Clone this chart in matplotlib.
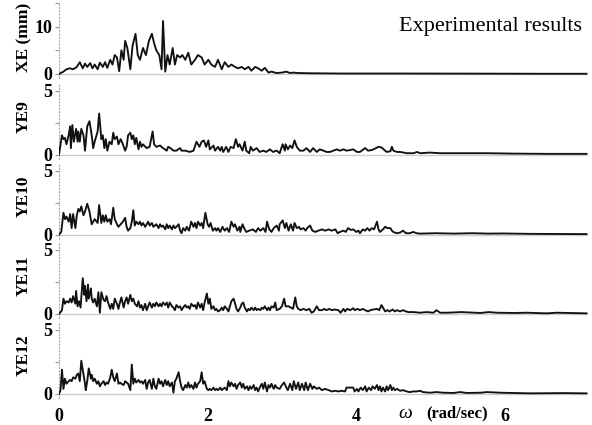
import numpy as np
import matplotlib
matplotlib.use("Agg")
import matplotlib.pyplot as plt

# spectra: (omega [rad/sec], amplitude)
xe = np.array([
    (0.00, 0), (0.06, 0.5), (0.10, 1.0), (0.15, 1.2), (0.19, 1.0), (0.24, 1.5), (0.28, 2.5),
    (0.32, 1.2), (0.35, 2.2), (0.38, 1.5), (0.42, 2.3), (0.45, 1.2), (0.48, 2.0), (0.52, 1.0),
    (0.55, 2.4), (0.59, 1.5), (0.62, 2.5), (0.65, 1.3), (0.69, 3.0), (0.72, 2.0), (0.75, 4.0),
    (0.78, 3.5), (0.81, 0.6), (0.84, 5.0), (0.87, 3.0), (0.89, 7.0), (0.92, 5.5), (0.96, 1.0),
    (0.99, 6.0), (1.03, 8.5), (1.06, 4.0), (1.09, 3.0), (1.13, 5.5), (1.17, 4.0), (1.21, 7.0),
    (1.25, 8.5), (1.28, 6.5), (1.31, 5.0), (1.35, 4.0), (1.38, 1.0), (1.40, 11.2), (1.43, 0.5),
    (1.46, 4.0), (1.49, 2.0), (1.53, 5.5), (1.56, 2.0), (1.59, 4.0), (1.63, 3.5), (1.66, 4.0),
    (1.70, 3.0), (1.74, 4.5), (1.78, 2.0), (1.83, 3.0), (1.87, 4.0), (1.92, 3.5), (1.96, 2.0),
    (2.01, 3.0), (2.05, 2.0), (2.10, 1.5), (2.14, 3.0), (2.19, 1.0), (2.23, 2.5), (2.28, 1.5),
    (2.32, 2.0), (2.37, 1.5), (2.41, 1.2), (2.46, 1.5), (2.50, 1.0), (2.55, 1.5), (2.59, 0.7),
    (2.64, 1.5), (2.68, 1.2), (2.73, 0.7), (2.77, 1.3), (2.82, 0.3), (2.86, 0.5), (2.93, 0.2),
    (3.00, 0.3), (3.06, 0.5), (3.11, 0.2), (3.15, 0.3), (3.22, 0.2), (3.40, 0.15), (3.80, 0.1),
    (4.50, 0.1), (5.50, 0.08), (6.50, 0.05), (7.10, 0.05),
])

ye9 = np.array([
    (0.00, 0), (0.04, 1.5), (0.06, 1.2), (0.08, 1.3), (0.10, 0.8), (0.13, 1.5), (0.15, 2.2),
    (0.16, 0.5), (0.18, 2.3), (0.20, 1.0), (0.23, 2.0), (0.25, 1.0), (0.26, 1.8), (0.28, 1.0),
    (0.30, 2.0), (0.33, 1.5), (0.35, 0.3), (0.38, 2.2), (0.41, 2.6), (0.44, 1.5), (0.46, 0.5),
    (0.48, 1.0), (0.52, 1.8), (0.54, 3.2), (0.57, 1.2), (0.59, 1.5), (0.61, 0.5), (0.63, 1.2),
    (0.65, 0.3), (0.68, 1.0), (0.71, 0.8), (0.73, 1.7), (0.75, 1.2), (0.78, 1.4), (0.80, 0.8),
    (0.83, 1.2), (0.86, 0.8), (0.89, 0.3), (0.91, 0.6), (0.93, 1.5), (0.96, 1.7), (0.98, 1.2),
    (1.00, 1.5), (1.02, 0.8), (1.04, 1.3), (1.07, 0.4), (1.09, 1.0), (1.11, 0.6), (1.13, 0.8),
    (1.18, 0.5), (1.22, 0.6), (1.26, 1.8), (1.28, 0.8), (1.31, 0.6), (1.36, 0.7), (1.40, 0.5),
    (1.45, 0.3), (1.47, 0.6), (1.50, 0.5), (1.54, 0.3), (1.58, 0.3), (1.63, 0.5), (1.65, 0.3),
    (1.70, 0.3), (1.76, 0.2), (1.81, 0.3), (1.85, 1.0), (1.89, 0.6), (1.92, 1.0), (1.95, 1.1),
    (1.98, 0.6), (2.01, 1.1), (2.03, 0.4), (2.08, 0.7), (2.10, 0.3), (2.14, 0.6), (2.17, 0.3),
    (2.19, 0.6), (2.21, 0.2), (2.25, 0.6), (2.28, 0.2), (2.31, 0.6), (2.35, 0.5), (2.38, 1.2),
    (2.41, 0.6), (2.43, 0.8), (2.47, 0.3), (2.50, 1.0), (2.52, 0.3), (2.56, 0.1), (2.58, 0.6),
    (2.61, 0.3), (2.66, 0.5), (2.70, 0.2), (2.75, 0.3), (2.79, 0.2), (2.84, 0.4), (2.88, 0.2),
    (2.93, 0.3), (2.97, 0.1), (3.01, 0.8), (3.04, 0.3), (3.05, 0.8), (3.08, 0.4), (3.11, 0.7),
    (3.14, 0.5), (3.17, 1.1), (3.20, 0.6), (3.24, 0.3), (3.29, 0.3), (3.33, 0.5), (3.38, 0.2),
    (3.42, 0.5), (3.47, 0.2), (3.51, 0.4), (3.56, 0.3), (3.60, 0.2), (3.65, 0.2), (3.69, 0.3),
    (3.74, 0.4), (3.78, 0.3), (3.83, 0.4), (3.87, 0.3), (3.92, 0.35), (3.96, 0.4), (4.01, 0.2),
    (4.05, 0.2), (4.12, 0.5), (4.16, 0.3), (4.21, 0.35), (4.25, 0.45), (4.30, 0.6), (4.34, 0.55),
    (4.39, 0.3), (4.41, 0.2), (4.46, 0.25), (4.48, 0.6), (4.50, 0.3), (4.55, 0.2), (4.59, 0.2),
    (4.64, 0.15), (4.68, 0.1), (4.77, 0.1), (4.82, 0.2), (4.86, 0.1), (4.99, 0.15), (5.13, 0.1),
    (5.44, 0.1), (5.76, 0.1), (6.11, 0.07), (6.56, 0.05), (7.10, 0.05),
])

ye10 = np.array([
    (0.00, 0), (0.03, 0.2), (0.06, 1.7), (0.08, 1.2), (0.10, 1.4), (0.13, 1.0), (0.15, 1.6),
    (0.17, 0.5), (0.19, 1.6), (0.22, 0.5), (0.24, 1.5), (0.26, 2.0), (0.28, 1.8), (0.30, 2.2),
    (0.33, 1.5), (0.35, 1.8), (0.38, 2.4), (0.41, 1.8), (0.44, 0.8), (0.46, 1.0), (0.48, 1.2),
    (0.52, 0.9), (0.54, 2.3), (0.57, 0.9), (0.59, 1.5), (0.61, 1.0), (0.63, 1.5), (0.65, 1.0),
    (0.68, 1.2), (0.70, 0.8), (0.73, 2.1), (0.75, 1.2), (0.78, 0.8), (0.80, 0.6), (0.83, 0.8),
    (0.86, 1.0), (0.89, 1.3), (0.91, 0.6), (0.93, 0.3), (0.96, 0.5), (0.98, 1.0), (1.00, 1.9),
    (1.02, 0.7), (1.04, 1.0), (1.07, 0.8), (1.09, 1.0), (1.11, 0.7), (1.13, 0.9), (1.16, 0.6),
    (1.18, 0.8), (1.20, 1.0), (1.22, 0.7), (1.25, 0.9), (1.27, 0.6), (1.31, 0.8), (1.34, 0.5),
    (1.36, 0.8), (1.38, 0.6), (1.40, 0.7), (1.43, 0.4), (1.45, 0.8), (1.47, 0.5), (1.49, 0.7),
    (1.52, 0.4), (1.54, 0.7), (1.56, 0.5), (1.58, 0.6), (1.61, 0.8), (1.63, 0.3), (1.65, 0.1),
    (1.67, 0.5), (1.70, 0.3), (1.72, 0.6), (1.75, 0.3), (1.78, 1.0), (1.81, 0.6), (1.83, 0.9),
    (1.85, 0.5), (1.87, 1.0), (1.90, 0.7), (1.92, 0.9), (1.94, 0.5), (1.97, 1.7), (2.00, 0.8),
    (2.02, 0.6), (2.04, 0.9), (2.07, 0.3), (2.10, 0.5), (2.12, 0.3), (2.14, 0.5), (2.17, 0.2),
    (2.20, 0.6), (2.23, 0.3), (2.26, 0.5), (2.29, 0.2), (2.32, 1.0), (2.35, 0.6), (2.37, 0.8),
    (2.40, 0.3), (2.43, 0.6), (2.44, 0.2), (2.47, 0.8), (2.50, 0.4), (2.52, 0.2), (2.56, 0.3),
    (2.61, 0.4), (2.65, 0.2), (2.68, 0.5), (2.71, 0.3), (2.75, 0.5), (2.78, 0.2), (2.80, 1.0),
    (2.83, 0.4), (2.86, 0.2), (2.89, 0.5), (2.93, 0.7), (2.96, 0.3), (2.97, 0.8), (3.01, 1.1),
    (3.04, 0.5), (3.06, 0.9), (3.09, 0.3), (3.12, 0.8), (3.15, 0.3), (3.17, 0.9), (3.20, 0.5),
    (3.23, 0.6), (3.25, 0.4), (3.29, 0.5), (3.32, 0.3), (3.34, 0.5), (3.38, 0.7), (3.41, 0.3),
    (3.45, 0.2), (3.49, 0.3), (3.54, 0.4), (3.58, 0.3), (3.63, 0.4), (3.67, 0.3), (3.72, 0.4),
    (3.75, 0.1), (3.78, 0.2), (3.83, 0.3), (3.86, 0.2), (3.89, 0.5), (3.93, 0.35), (3.96, 0.4),
    (4.00, 0.2), (4.03, 0.3), (4.05, 0.1), (4.09, 0.4), (4.12, 0.3), (4.15, 0.5), (4.18, 0.3),
    (4.21, 0.5), (4.24, 0.4), (4.28, 1.0), (4.30, 0.4), (4.32, 0.2), (4.36, 0.4), (4.39, 0.6),
    (4.42, 0.5), (4.46, 0.5), (4.48, 0.3), (4.50, 0.2), (4.54, 0.1), (4.59, 0.15), (4.63, 0.3),
    (4.67, 0.1), (4.72, 0.1), (4.77, 0.2), (4.81, 0.1), (4.86, 0.07), (5.08, 0.1), (5.31, 0.07),
    (5.56, 0.1), (5.78, 0.07), (5.98, 0.08), (6.34, 0.05), (7.10, 0.03),
])

ye11 = np.array([
    (0.00, 0), (0.04, 0.3), (0.06, 1.2), (0.08, 0.8), (0.10, 1.0), (0.13, 0.9), (0.15, 1.2),
    (0.17, 0.9), (0.19, 1.4), (0.22, 0.8), (0.23, 1.8), (0.25, 0.6), (0.27, 1.0), (0.29, 0.5),
    (0.32, 2.8), (0.34, 1.5), (0.35, 2.2), (0.37, 1.0), (0.39, 2.3), (0.40, 1.2), (0.43, 2.0),
    (0.44, 1.2), (0.46, 0.9), (0.48, 1.2), (0.51, 0.6), (0.53, 1.7), (0.55, 0.1), (0.57, 1.7),
    (0.60, 1.1), (0.62, 1.0), (0.64, 1.4), (0.66, 0.9), (0.69, 0.4), (0.71, 0.8), (0.73, 0.4),
    (0.75, 1.2), (0.78, 0.8), (0.80, 0.4), (0.82, 0.9), (0.84, 1.3), (0.87, 0.5), (0.89, 1.0),
    (0.91, 1.3), (0.93, 0.8), (0.96, 1.5), (0.98, 1.0), (1.00, 1.2), (1.02, 0.8), (1.05, 0.6),
    (1.07, 1.0), (1.09, 0.5), (1.11, 0.7), (1.13, 0.3), (1.16, 0.8), (1.18, 0.3), (1.20, 0.6),
    (1.22, 0.9), (1.25, 0.5), (1.27, 0.8), (1.29, 0.6), (1.31, 0.9), (1.34, 0.6), (1.36, 0.8),
    (1.38, 0.6), (1.40, 0.9), (1.43, 0.7), (1.45, 0.9), (1.47, 0.5), (1.49, 0.9), (1.52, 0.6),
    (1.54, 0.5), (1.56, 0.3), (1.58, 0.7), (1.61, 0.5), (1.63, 0.6), (1.65, 0.3), (1.67, 0.5),
    (1.70, 0.7), (1.72, 0.5), (1.74, 0.6), (1.76, 0.4), (1.78, 0.8), (1.81, 0.6), (1.83, 0.7),
    (1.85, 0.4), (1.87, 0.9), (1.90, 0.5), (1.92, 0.8), (1.94, 0.3), (1.96, 0.9), (1.99, 1.6),
    (2.01, 0.8), (2.03, 1.2), (2.05, 0.4), (2.08, 0.6), (2.10, 0.3), (2.12, 0.4), (2.14, 0.2),
    (2.17, 0.3), (2.19, 0.5), (2.21, 0.3), (2.23, 0.6), (2.26, 0.4), (2.28, 0.2), (2.30, 0.6),
    (2.32, 1.0), (2.35, 1.2), (2.37, 0.8), (2.39, 0.4), (2.41, 0.2), (2.44, 0.5), (2.46, 0.8),
    (2.48, 0.9), (2.50, 0.5), (2.53, 0.2), (2.55, 0.4), (2.57, 0.3), (2.59, 0.5), (2.62, 0.3),
    (2.64, 0.5), (2.66, 0.3), (2.68, 0.4), (2.71, 0.3), (2.73, 0.5), (2.75, 0.4), (2.77, 0.6),
    (2.80, 0.3), (2.82, 0.5), (2.84, 0.3), (2.86, 0.6), (2.89, 0.5), (2.91, 0.9), (2.93, 0.3),
    (2.97, 0.4), (3.00, 0.6), (3.03, 1.2), (3.05, 0.6), (3.09, 0.6), (3.12, 0.5), (3.15, 0.4),
    (3.18, 1.3), (3.20, 0.6), (3.22, 0.4), (3.25, 0.3), (3.29, 0.4), (3.33, 0.3), (3.37, 0.4),
    (3.40, 0.1), (3.43, 0.2), (3.47, 0.6), (3.50, 0.3), (3.54, 0.3), (3.57, 0.4), (3.60, 0.3),
    (3.64, 0.4), (3.67, 0.3), (3.71, 0.35), (3.76, 0.3), (3.79, 0.1), (3.83, 0.4), (3.85, 0.2),
    (3.88, 0.4), (3.92, 0.3), (3.96, 0.45), (3.98, 0.3), (4.02, 0.4), (4.05, 0.3), (4.09, 0.4),
    (4.12, 0.3), (4.16, 0.2), (4.19, 0.3), (4.23, 0.35), (4.28, 0.4), (4.31, 0.3), (4.34, 0.7),
    (4.36, 0.5), (4.39, 0.2), (4.42, 0.3), (4.45, 0.2), (4.49, 0.35), (4.52, 0.2), (4.55, 0.3),
    (4.59, 0.2), (4.63, 0.3), (4.67, 0.2), (4.70, 0.15), (4.77, 0.15), (4.86, 0.1), (4.95, 0.15),
    (5.04, 0.1), (5.08, 0.3), (5.13, 0.1), (5.22, 0.1), (5.42, 0.15), (5.67, 0.08), (5.78, 0.15),
    (5.89, 0.1), (6.12, 0.08), (6.30, 0.1), (6.56, 0.05), (6.70, 0.1), (7.10, 0.05),
])

ye12 = np.array([
    (0.00, 0), (0.02, 0.3), (0.04, 1.9), (0.06, 0.4), (0.08, 1.2), (0.10, 0.8), (0.13, 1.0),
    (0.15, 1.1), (0.17, 1.0), (0.19, 1.3), (0.22, 1.2), (0.24, 1.5), (0.26, 1.6), (0.28, 1.0),
    (0.30, 2.6), (0.33, 1.5), (0.35, 0.8), (0.36, 0.3), (0.38, 1.0), (0.40, 2.0), (0.43, 1.2),
    (0.44, 1.5), (0.46, 1.0), (0.48, 1.2), (0.51, 0.8), (0.53, 1.0), (0.55, 0.6), (0.57, 0.8),
    (0.60, 1.0), (0.62, 0.7), (0.64, 0.9), (0.66, 0.8), (0.69, 1.3), (0.71, 1.9), (0.73, 1.3),
    (0.75, 1.0), (0.78, 1.6), (0.80, 0.8), (0.82, 0.9), (0.84, 0.8), (0.87, 0.7), (0.89, 1.0),
    (0.91, 0.9), (0.93, 0.8), (0.96, 0.3), (0.98, 2.3), (1.00, 0.8), (1.02, 1.2), (1.04, 0.9),
    (1.07, 1.1), (1.09, 0.9), (1.11, 1.0), (1.13, 0.8), (1.16, 1.1), (1.18, 0.4), (1.20, 0.9),
    (1.22, 1.1), (1.25, 0.4), (1.27, 1.2), (1.29, 0.6), (1.31, 0.4), (1.34, 1.2), (1.36, 0.8),
    (1.38, 1.0), (1.40, 0.6), (1.43, 1.1), (1.45, 0.7), (1.47, 1.0), (1.49, 0.6), (1.52, 0.9),
    (1.54, 0.1), (1.56, 1.0), (1.58, 1.2), (1.61, 1.7), (1.63, 1.0), (1.65, 0.5), (1.67, 0.3),
    (1.70, 0.7), (1.72, 0.5), (1.74, 0.9), (1.76, 0.5), (1.78, 0.7), (1.81, 0.4), (1.83, 0.9),
    (1.85, 0.5), (1.87, 0.8), (1.90, 1.0), (1.92, 1.7), (1.94, 0.8), (1.96, 1.0), (1.99, 0.4),
    (2.01, 0.3), (2.03, 0.4), (2.05, 0.3), (2.08, 0.5), (2.10, 0.3), (2.12, 0.4), (2.14, 0.3),
    (2.17, 0.5), (2.19, 0.3), (2.21, 0.4), (2.23, 0.5), (2.26, 0.3), (2.28, 1.0), (2.30, 0.6),
    (2.32, 0.9), (2.35, 0.6), (2.37, 0.8), (2.39, 0.4), (2.41, 0.7), (2.44, 0.9), (2.46, 0.5),
    (2.48, 0.8), (2.50, 0.4), (2.53, 0.6), (2.55, 0.3), (2.57, 0.6), (2.59, 0.4), (2.62, 0.7),
    (2.64, 0.3), (2.66, 0.5), (2.68, 0.2), (2.71, 0.6), (2.73, 0.8), (2.75, 0.4), (2.77, 0.9),
    (2.80, 0.2), (2.82, 0.7), (2.84, 0.5), (2.86, 0.8), (2.89, 0.4), (2.91, 0.7), (2.93, 0.5),
    (2.97, 0.4), (3.00, 0.7), (3.03, 0.9), (3.06, 0.5), (3.08, 0.3), (3.11, 0.8), (3.14, 0.3),
    (3.16, 1.0), (3.19, 0.4), (3.22, 0.9), (3.24, 0.3), (3.27, 0.8), (3.30, 0.3), (3.32, 0.9),
    (3.35, 0.3), (3.38, 0.8), (3.41, 0.4), (3.43, 0.6), (3.47, 0.4), (3.50, 0.5), (3.54, 0.3),
    (3.58, 0.4), (3.63, 0.3), (3.67, 0.2), (3.72, 0.25), (3.76, 0.2), (3.80, 0.25), (3.85, 0.2),
    (3.87, 0.5), (3.92, 0.5), (3.96, 0.5), (3.98, 0.2), (4.01, 0.4), (4.03, 0.2), (4.06, 0.5),
    (4.09, 0.3), (4.12, 0.6), (4.14, 0.2), (4.17, 0.5), (4.20, 0.3), (4.22, 0.6), (4.25, 0.4),
    (4.28, 0.7), (4.30, 0.3), (4.32, 0.6), (4.34, 0.2), (4.36, 0.5), (4.39, 0.2), (4.41, 0.6),
    (4.43, 0.3), (4.46, 0.7), (4.48, 0.3), (4.50, 0.5), (4.52, 0.3), (4.55, 0.4), (4.59, 0.25),
    (4.63, 0.3), (4.68, 0.2), (4.72, 0.15), (4.77, 0.2), (4.81, 0.2), (4.86, 0.25), (4.90, 0.15),
    (4.99, 0.1), (5.08, 0.15), (5.17, 0.1), (5.31, 0.08), (5.40, 0.15), (5.49, 0.08), (5.67, 0.1),
    (5.76, 0.15), (5.94, 0.1), (6.12, 0.08), (6.34, 0.05), (6.79, 0.07), (7.10, 0.05),
])

series = [xe, ye9, ye10, ye11, ye12]
names = ["XE (mm)", "YE9", "YE10", "YE11", "YE12"]
xticks = [0, 2, 4, 6]

serif = "Liberation Serif"
W, H = 592, 425
fig = plt.figure(figsize=(W / 100, H / 100), dpi=100)

# panel layout in pixels: zero line row and px per unit
zero_px = [74, 154.5, 234.5, 314, 394]
scale = [4.73, 12.8, 12.8, 12.8, 12.8]
left_px, right_px = 59, 588
xmax = (right_px - left_px) / 74.3
label_y = [37, 117, 196, 276, 355]

axes = []
for i, data in enumerate(series):
    bot = zero_px[i] + 4
    top = bot - 76
    ax = fig.add_axes([left_px / W, 1 - bot / H, (right_px - left_px) / W, (bot - top) / H])
    ax.plot(data[:, 0], data[:, 1], color="#111111", lw=1.35, zorder=3)
    ax.set_xlim(0, xmax)
    ax.set_ylim(-4 / scale[i], 72 / scale[i])
    ax.axhline(0, color="0.8", lw=1.0, zorder=1)
    for s in ["top", "right", "bottom"]:
        ax.spines[s].set_visible(False)
    ax.spines["left"].set_linestyle((0, (1, 2)))
    ax.spines["left"].set_color("0.65")
    ax.spines["left"].set_linewidth(0.8)
    if i == 0:
        ax.set_yticks([0, 10])
        ax.set_yticks([5, 15], minor=True)
    else:
        ax.set_yticks([0, 5])
        ax.set_yticks([2.5], minor=True)
    ax.tick_params(axis="y", which="both", length=3, width=0.8, color="0.6", pad=2)
    for lab in ax.get_yticklabels():
        lab.set_fontfamily(serif)
        lab.set_fontweight("bold")
        lab.set_fontsize(13)
    if i < len(series) - 1:
        ax.set_xticks([])
    else:
        ax.set_xticks(xticks)
        ax.set_xticklabels([str(t) for t in xticks])
        ax.tick_params(axis="x", length=0, pad=7)
        for lab in ax.get_xticklabels():
            lab.set_fontfamily(serif)
            lab.set_fontweight("bold")
            lab.set_fontsize(13)
    fig.text(24 / W, 1 - label_y[i] / H, names[i], rotation=90, ha="center", va="center",
             family=serif, fontweight="bold", fontsize=12.5)
    axes.append(ax)

fig.text(582 / W, 1 - 27 / H, "Experimental results", ha="right", va="center",
         family=serif, fontsize=16)
fig.text(405 / W, 1 - 413 / H, "\u03c9", ha="center", va="center", family=serif,
         fontstyle="italic", fontsize=14)
fig.text(457 / W, 1 - 413 / H, "(rad/sec)", ha="center", va="center", family=serif,
         fontweight="bold", fontsize=12)

fig.savefig("out.png", dpi=100)
